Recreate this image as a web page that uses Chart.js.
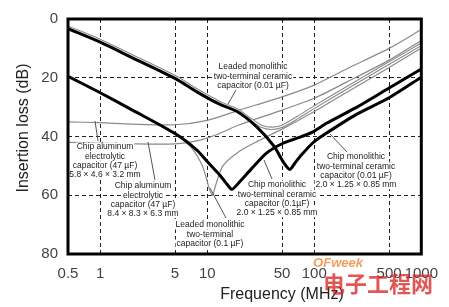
<!DOCTYPE html>
<html><head><meta charset="utf-8">
<script src="https://cdn.jsdelivr.net/npm/chart.js@4"></script>
<style>html,body{margin:0;padding:0;background:#fff}</style>
</head><body>
<canvas id="c" width="449" height="307"></canvas>
<script>
// ---- data (frequency in MHz, insertion loss in dB) ----
const xTicks = [0.5, 1, 5, 10, 50, 100, 500, 1000];
const yTicks = [0, 20, 40, 60, 80];

const chip001Freq = [0.5, 1, 2, 5, 8, 13, 19, 29, 42, 52, 59, 66, 75, 96, 120, 250, 500, 1000];
const chip001Loss = [3.3, 7.9, 13.2, 20.2, 24.8, 29, 31.5, 36.7, 43.3, 49, 51.2, 49, 46.5, 42.3, 39.7, 32.4, 26.8, 19.8];

const chip01Freq = [0.5, 1, 2, 5, 8, 10, 13, 15.5, 17, 20, 25.6, 36, 51, 70, 96, 130, 250, 500, 1000];
const chip01Loss = [19.5, 25.1, 31, 39, 44.6, 48.5, 53, 56.5, 58, 55.5, 51.2, 45.6, 42.3, 40.5, 38.5, 35.5, 30, 23.5, 17];

const leaded001Freq = [0.5, 1, 2, 5, 8, 13, 19, 25, 32, 40, 50, 70, 100, 200, 500, 1000];
const leaded001Loss = [2.8, 7.3, 12.6, 19.6, 24.2, 28.4, 31, 34, 36.5, 37.2, 36.5, 33.5, 30, 23.5, 15, 8.6];

const leaded01Freq = [0.5, 1, 2, 5, 7, 9, 10.5, 11.2, 12, 14, 20, 30, 50, 100, 200, 500, 1000];
const leaded01Loss = [19.5, 25, 31, 39.3, 43.5, 50, 58, 60, 56.5, 50, 45, 41.5, 37.5, 31.5, 25, 16.5, 9.9];

const alSmallFreq = [0.5, 1, 2, 5, 10, 20, 50, 100, 200, 500, 1000];
const alSmallLoss = [35, 35.3, 35.8, 36, 34.5, 31, 26.5, 22.5, 17, 10, 3.6];

const alLargeFreq = [0.5, 1, 2, 5, 8, 12, 20, 50, 100, 200, 500, 1000];
const alLargeLoss = [42, 42.2, 42.5, 42.5, 41.5, 39.5, 36, 31, 27, 21.5, 14, 7.3];

const pts = (f, l) => f.map((v, i) => ({x: v, y: l[i]}));

const thin = (data, order) => ({data, borderColor: '#8a8a8a', borderWidth: 1.2, pointRadius: 0, tension: 0.25, fill: false, order});
const thick = (data) => ({data, borderColor: '#000', borderWidth: 3, pointRadius: 0, tension: 0.25, fill: false, order: 0});

const notes = [
  {x: 253, y: 67, lines: ['Leaded monolithic', 'two-terminal ceramic', 'capacitor (0.01 \u00b5F)'], lead: [236, 90, 228, 104]},
  {x: 105, y: 147, lines: ['Chip aluminum', 'electrolytic', 'capacitor (47 \u00b5F)', '5.8 \u00d7 4.6 \u00d7 3.2 mm'], lead: [95, 121, 98, 141]},
  {x: 143, y: 186, lines: ['Chip aluminum', 'electrolytic', 'capacitor (47 \u00b5F)', '8.4 \u00d7 8.3 \u00d7 6.3 mm'], lead: [148, 142, 155, 180]},
  {x: 210, y: 225, lines: ['Leaded monolithic', 'two-terminal', 'capacitor (0.1 \u00b5F)'], lead: [210, 188, 226, 218]},
  {x: 277, y: 185, lines: ['Chip monolithic', 'two-terminal ceramic', 'capacitor (0.1\u00b5F)', '2.0 \u00d7 1.25 \u00d7 0.85 mm'], lead: [264, 160, 272, 179]},
  {x: 356, y: 157, lines: ['Chip monolithic', 'two-terminal ceramic', 'capacitor (0.01 \u00b5F)', '2.0 \u00d7 1.25 \u00d7 0.85 mm'], lead: [330, 134, 347, 152]}
];

const decor = {
  id: 'decor',
  afterDatasetsDraw(chart) {
    const ctx = chart.ctx;
    ctx.save();
    // leader lines
    ctx.strokeStyle = '#555'; ctx.lineWidth = 1;
    notes.forEach(n => { const l = n.lead; ctx.beginPath(); ctx.moveTo(l[0], l[1]); ctx.lineTo(l[2], l[3]); ctx.stroke(); });
    ctx.font = '8.5px "Liberation Sans", Arial, sans-serif';
    ctx.textAlign = 'center'; ctx.textBaseline = 'middle';
    notes.forEach(n => {
      n.lines.forEach((t, i) => {
        const w = ctx.measureText(t).width;
        ctx.fillStyle = '#fff'; ctx.fillRect(n.x - w / 2 - 1, n.y + i * 9.2 - 4.5, w + 2, 9);
        ctx.fillStyle = '#222'; ctx.fillText(t, n.x, n.y + i * 9.2);
      });
    });
    ctx.restore();
  },
  afterDraw(chart) {
    const ctx = chart.ctx, a = chart.chartArea;
    ctx.save();
    ctx.strokeStyle = '#000'; ctx.lineWidth = 3;
    ctx.strokeRect(a.left, a.top, a.right - a.left, a.bottom - a.top);
    // axis titles
    ctx.fillStyle = '#222';
    ctx.font = '16px "Liberation Sans", Arial, sans-serif';
    ctx.textAlign = 'center'; ctx.textBaseline = 'middle';
    ctx.fillText('Frequency (MHz)', 282, 295);
    ctx.save();
    ctx.translate(24, 128); ctx.rotate(-Math.PI / 2);
    ctx.fillText('Insertion loss (dB)', 0, 0);
    ctx.restore();
    // watermark
    ctx.globalAlpha = 0.75;
    ctx.fillStyle = '#f07a2a';
    ctx.font = 'italic bold 13px "Liberation Sans", Arial, sans-serif';
    ctx.fillText('OFweek', 338, 263);
    ctx.fillStyle = '#d81e1e';
    ctx.font = 'bold 22px "Noto Sans CJK SC", sans-serif';
    ctx.fillText('\u7535\u5b50\u5de5\u7a0b\u7f51', 378, 284);
    ctx.restore();
  }
};

new Chart(document.getElementById('c'), {
  type: 'line',
  data: {
    datasets: [
      thick(pts(chip001Freq, chip001Loss)),
      thick(pts(chip01Freq, chip01Loss)),
      {data: pts(leaded001Freq, leaded001Loss), borderColor: '#fff', borderWidth: 1.2, pointRadius: 0, tension: 0.25, fill: false, order: 1},
      {data: pts(leaded001Freq, leaded001Loss), borderColor: '#8a8a8a', borderWidth: 3.4, pointRadius: 0, tension: 0.25, fill: false, order: 2},
      thin(pts(leaded01Freq, leaded01Loss), 3),
      thin(pts(alSmallFreq, alSmallLoss), 3),
      thin(pts(alLargeFreq, alLargeLoss), 3)
    ]
  },
  options: {
    responsive: false,
    devicePixelRatio: 1,
    animation: false,
    layout: {padding: {left: 0, right: 19, top: 13, bottom: 0}},
    plugins: {legend: {display: false}, tooltip: {enabled: false}},
    scales: {
      x: {
        type: 'logarithmic', min: 0.5, max: 1000,
        afterBuildTicks: s => { s.ticks = xTicks.map(v => ({value: v})); },
        afterFit: s => { s.height = 53; },
        ticks: {callback: v => String(v), color: '#444', padding: 11, maxRotation: 0, autoSkip: false,
                font: {size: 15, family: '"Liberation Sans", Arial, sans-serif'}},
        grid: {color: c => (c.tick && (c.tick.value === 0.5 || c.tick.value === 1000)) ? 'rgba(0,0,0,0)' : '#222',
               lineWidth: 1, drawTicks: false},
        border: {display: false, dash: [4, 3]}
      },
      y: {
        reverse: true, min: 0, max: 80,
        afterBuildTicks: s => { s.ticks = yTicks.map(v => ({value: v})); },
        afterFit: s => { s.width = 68; },
        ticks: {color: '#444', padding: 10, font: {size: 15, family: '"Liberation Sans", Arial, sans-serif'}},
        grid: {color: c => (c.tick && (c.tick.value === 0 || c.tick.value === 80)) ? 'rgba(0,0,0,0)' : '#222',
               lineWidth: 1, drawTicks: false},
        border: {display: false, dash: [4, 3]}
      }
    }
  },
  plugins: [decor]
});
</script>
</body></html>
